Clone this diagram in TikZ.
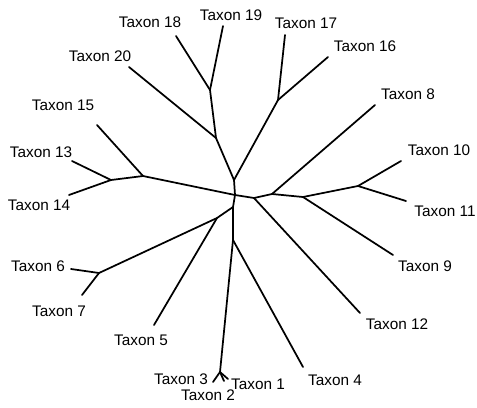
\documentclass[tikz,border=0pt]{standalone}
\usepackage{fontspec}
\setmainfont{Liberation Sans}
\begin{document}
\begin{tikzpicture}[x=0.75pt,y=-0.75pt,
  br/.style={line width=1.3pt,line join=round,line cap=round},
  lbl/.style={inner sep=0pt,font=\fontsize{11.5}{13}\selectfont}]
\useasboundingbox (0,0) rectangle (477,407);
% internal junctions
\coordinate (A) at (235,195);
\coordinate (D) at (234,180);
\coordinate (C) at (216,138);
\coordinate (N1819) at (210,90);
\coordinate (N1617) at (278,100);
\coordinate (L15) at (143,176);
\coordinate (N1314) at (111,180);
\coordinate (E) at (233,207);
\coordinate (G) at (217,218);
\coordinate (N67) at (99,273);
\coordinate (F) at (233,240);
\coordinate (N123) at (220,372);
\coordinate (H) at (254,198);
\coordinate (I) at (272,194);
\coordinate (J) at (303,197);
\coordinate (N1011) at (358,186);
% leaf ends
\coordinate (e1) at (228,379);
\coordinate (e2) at (224,381);
\coordinate (e3) at (213,382);
\coordinate (e4) at (303,367);
\coordinate (e5) at (154,325);
\coordinate (e6) at (71,269);
\coordinate (e7) at (82,295);
\coordinate (e8) at (375,105);
\coordinate (e9) at (393,255);
\coordinate (e10) at (401,161);
\coordinate (e11) at (406,201);
\coordinate (e12) at (360,313);
\coordinate (e13) at (72,161);
\coordinate (e14) at (69,195);
\coordinate (e15) at (97,125);
\coordinate (e16) at (328,57);
\coordinate (e17) at (285,35);
\coordinate (e18) at (176,36);
\coordinate (e19) at (223,26);
\coordinate (e20) at (129,67);
% branches
\draw[br] (A) -- (D) -- (C) -- (N1819) -- (e18);
\draw[br] (N1819) -- (e19);
\draw[br] (C) -- (e20);
\draw[br] (D) -- (N1617) -- (e17);
\draw[br] (N1617) -- (e16);
\draw[br] (A) -- (L15) -- (N1314) -- (e13);
\draw[br] (N1314) -- (e14);
\draw[br] (L15) -- (e15);
\draw[br] (A) -- (E) -- (G) -- (N67) -- (e6);
\draw[br] (N67) -- (e7);
\draw[br] (G) -- (e5);
\draw[br] (E) -- (F) -- (N123) -- (e3);
\draw[br] (N123) -- (e2);
\draw[br] (N123) -- (e1);
\draw[br] (F) -- (e4);
\draw[br] (A) -- (H) -- (I) -- (J) -- (N1011) -- (e10);
\draw[br] (N1011) -- (e11);
\draw[br] (H) -- (e12);
\draw[br] (I) -- (e8);
\draw[br] (J) -- (e9);
% labels
\node[lbl] (t1) at (258,384) {Taxon 1};
\node[lbl] (t2) at (208,395) {Taxon 2};
\node[lbl] (t3) at (181,379) {Taxon 3};
\node[lbl] (t4) at (335,380) {Taxon 4};
\node[lbl] (t5) at (141,340) {Taxon 5};
\node[lbl] (t6) at (38,266) {Taxon 6};
\node[lbl] (t7) at (59,311) {Taxon 7};
\node[lbl] (t8) at (408,94) {Taxon 8};
\node[lbl] (t9) at (425,266) {Taxon 9};
\node[lbl] (t10) at (439,150) {Taxon 10};
\node[lbl] (t11) at (445,211) {Taxon 11};
\node[lbl] (t12) at (397,324) {Taxon 12};
\node[lbl] (t13) at (41,152) {Taxon 13};
\node[lbl] (t14) at (39,205) {Taxon 14};
\node[lbl] (t15) at (63,105) {Taxon 15};
\node[lbl] (t16) at (365,46) {Taxon 16};
\node[lbl] (t17) at (306,23) {Taxon 17};
\node[lbl] (t18) at (150,22) {Taxon 18};
\node[lbl] (t19) at (231,15) {Taxon 19};
\node[lbl] (t20) at (100,56) {Taxon 20};
\end{tikzpicture}
\end{document}
